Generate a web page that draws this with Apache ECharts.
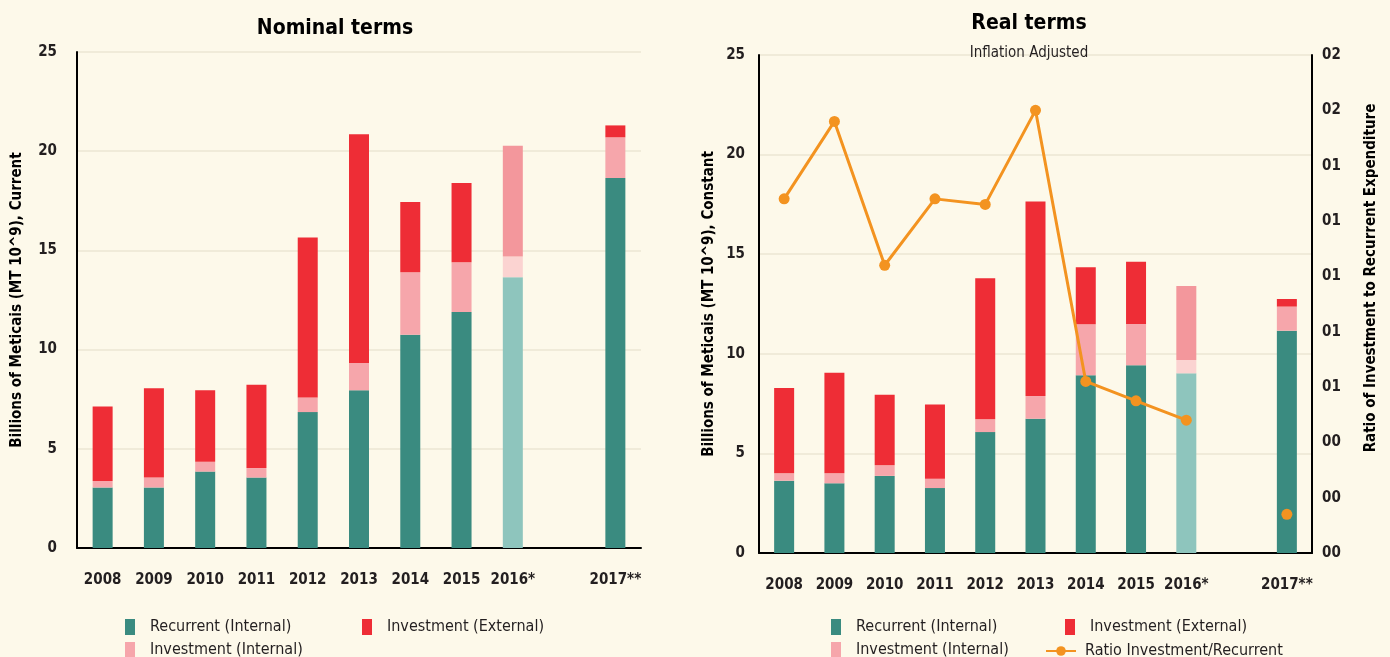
<!DOCTYPE html>
<html lang="en">
<head>
    <meta charset="UTF-8">
    <title>Nominal and real terms</title>
    <script src="https://cdn.jsdelivr.net/npm/echarts@6/dist/echarts.min.js"></script>
    <style>
        html, body { margin: 0; padding: 0; background: #fdf9ea; }
    </style>
</head>
<body>
<div id="main" style="width: 1390px;height:657px;"></div>
<script type="text/javascript">
    // categories (blank slot between 2016* and 2017**)
    var years = ['2008', '2009', '2010', '2011', '2012', '2013', '2014', '2015', '2016*', '', '2017**'];

    // nominal terms, billions MT
    var nomRecurrent   = [3.05, 3.05, 3.85, 3.55, 6.85, 7.95, 10.75, 11.9, 13.65, null, 18.65];
    var nomInvInternal = [0.33, 0.5, 0.5, 0.48, 0.74, 1.38, 3.15, 2.5, 1.04, null, 2.05];
    var nomInvExternal = [3.75, 4.5, 3.6, 4.2, 8.06, 11.53, 3.54, 4.0, 5.58, null, 0.6];

    // real terms, billions MT (constant)
    var realRecurrent   = [3.63, 3.5, 3.87, 3.26, 6.07, 6.74, 8.92, 9.42, 9.02, null, 11.16];
    var realInvInternal = [0.37, 0.5, 0.53, 0.47, 0.64, 1.14, 2.56, 2.08, 0.67, null, 1.21];
    var realInvExternal = [4.28, 5.05, 3.55, 3.72, 7.08, 9.76, 2.86, 3.12, 3.71, null, 0.38];

    // ratio investment / recurrent
    var ratio = [0.128, 0.156, 0.104, 0.128, 0.126, 0.160, 0.062, 0.055, 0.048, null, 0.014];

    // tick labels of the ratio axis, bottom to top
    var ratioTicks = ['00', '00', '00', '01', '01', '01', '01', '01', '02', '02'];

    var FONT = "'Liberation Sans Narrow', 'DejaVu Sans Condensed', 'Noto Sans', sans-serif";
    var BG = '#fdf9ea';
    var TEAL = '#3a8b80', RED = '#ee2d36', PINK = '#f6a6ab';
    var TEAL_F = '#8ec5bd', RED_F = '#f3979c', PINK_F = '#fbd3d1';
    var ORANGE = '#f39320';
    var PROJ = 8; // 2016* is drawn faded

    function fade(arr, col) {
        return arr.map(function (v, i) {
            if (i === PROJ) return {value: v, itemStyle: {color: col}};
            return v;
        });
    }

    var myChart = echarts.init(document.getElementById('main'));

    var yLabel = {fontFamily: FONT, fontWeight: 'bold', fontSize: 15, color: '#231f20'};
    var xLabel = {fontFamily: FONT, fontWeight: 'bold', fontSize: 15, color: '#231f20', interval: 0, margin: 25};
    var nameStyle = {fontFamily: FONT, fontWeight: 'bold', fontSize: 15, color: '#000'};
    var split = {show: true, lineStyle: {color: '#ebe6d3', width: 1.5}};
    var blackLine = {show: true, lineStyle: {color: '#000', width: 2}};

    function legendItem(name, left, top, isLine) {
        return {
            data: [isLine ? name : {name: name, icon: 'rect'}],
            left: left,
            top: top,
            itemWidth: isLine ? 30 : 10,
            itemHeight: isLine ? 12 : 16,
            selectedMode: false,
            textStyle: {fontFamily: FONT, fontSize: 16, color: '#231f20', padding: [0, 0, 0, isLine ? 4 : 10]}
        };
    }

    myChart.setOption({
        backgroundColor: BG,
        animation: false,
        title: [
            {
                text: 'Nominal terms',
                left: 330, top: 13, textAlign: 'center',
                textStyle: {fontFamily: FONT, fontWeight: 'bold', fontSize: 21, color: '#000'}
            },
            {
                text: 'Real terms',
                subtext: 'Inflation Adjusted',
                left: 1024, top: 8, textAlign: 'center', itemGap: 12,
                textStyle: {fontFamily: FONT, fontWeight: 'bold', fontSize: 21, color: '#000'},
                subtextStyle: {fontFamily: FONT, fontSize: 15, color: '#231f20',
                    backgroundColor: BG, padding: [2, 14, 2, 14]}
            }
        ],
        legend: [
            legendItem('Recurrent (Internal)', 120, 614),
            legendItem('Investment (External)', 357, 614),
            legendItem('Investment (Internal)', 120, 637),
            legendItem('Recurrent (Internal)', 826, 614),
            legendItem('Investment (External)', 1060, 614),
            legendItem('Investment (Internal)', 826, 637),
            legendItem('Ratio Investment/Recurrent', 1040, 638, true)
        ],
        grid: [
            {left: 77, top: 52, width: 564, height: 496},
            {left: 759, top: 55, width: 553, height: 498}
        ],
        xAxis: [
            {type: 'category', gridIndex: 0, data: years, axisTick: {show: false},
                axisLine: blackLine, axisLabel: xLabel},
            {type: 'category', gridIndex: 1, data: years, axisTick: {show: false},
                axisLine: blackLine, axisLabel: xLabel}
        ],
        yAxis: [
            {type: 'value', gridIndex: 0, min: 0, max: 25, interval: 5,
                name: 'Billions of Meticais (MT 10^9), Current', nameLocation: 'middle', nameGap: 52,
                nameTextStyle: nameStyle, axisLine: blackLine, axisTick: {show: false},
                axisLabel: Object.assign({margin: 20}, yLabel), splitLine: split},
            {type: 'value', gridIndex: 1, min: 0, max: 25, interval: 5,
                name: 'Billions of Meticais (MT 10^9), Constant', nameLocation: 'middle', nameGap: 42,
                nameTextStyle: nameStyle, axisLine: blackLine, axisTick: {show: false},
                axisLabel: Object.assign({margin: 14}, yLabel), splitLine: split},
            {type: 'value', gridIndex: 1, position: 'right', min: 0, max: 0.18, interval: 0.02,
                name: 'Ratio of Investment to Recurrent Expenditure', nameLocation: 'middle', nameGap: 52,
                nameRotate: 90,
                nameTextStyle: Object.assign({padding: [0, 0, 0, 52]}, nameStyle),
                axisLine: blackLine, axisTick: {show: false}, splitLine: {show: false},
                axisLabel: Object.assign({
                    margin: 10,
                    formatter: function (v) {
                        return ratioTicks[Math.round(v / 0.02)];
                    }
                }, yLabel)}
        ],
        series: [
            {name: 'Recurrent (Internal)', type: 'bar', stack: 'nom', xAxisIndex: 0, yAxisIndex: 0,
                barWidth: 20, itemStyle: {color: TEAL}, data: fade(nomRecurrent, TEAL_F)},
            {name: 'Investment (Internal)', type: 'bar', stack: 'nom', xAxisIndex: 0, yAxisIndex: 0,
                barWidth: 20, itemStyle: {color: PINK}, data: fade(nomInvInternal, PINK_F)},
            {name: 'Investment (External)', type: 'bar', stack: 'nom', xAxisIndex: 0, yAxisIndex: 0,
                barWidth: 20, itemStyle: {color: RED}, data: fade(nomInvExternal, RED_F)},

            {name: 'Recurrent (Internal)', type: 'bar', stack: 'real', xAxisIndex: 1, yAxisIndex: 1,
                barWidth: 20, itemStyle: {color: TEAL}, data: fade(realRecurrent, TEAL_F)},
            {name: 'Investment (Internal)', type: 'bar', stack: 'real', xAxisIndex: 1, yAxisIndex: 1,
                barWidth: 20, itemStyle: {color: PINK}, data: fade(realInvInternal, PINK_F)},
            {name: 'Investment (External)', type: 'bar', stack: 'real', xAxisIndex: 1, yAxisIndex: 1,
                barWidth: 20, itemStyle: {color: RED}, data: fade(realInvExternal, RED_F)},

            {name: 'Ratio Investment/Recurrent', type: 'line', xAxisIndex: 1, yAxisIndex: 2,
                data: ratio, connectNulls: false, symbol: 'circle', symbolSize: 11, showSymbol: true,
                lineStyle: {color: ORANGE, width: 3}, itemStyle: {color: ORANGE}, z: 5}
        ]
    });
</script>
</body>
</html>
